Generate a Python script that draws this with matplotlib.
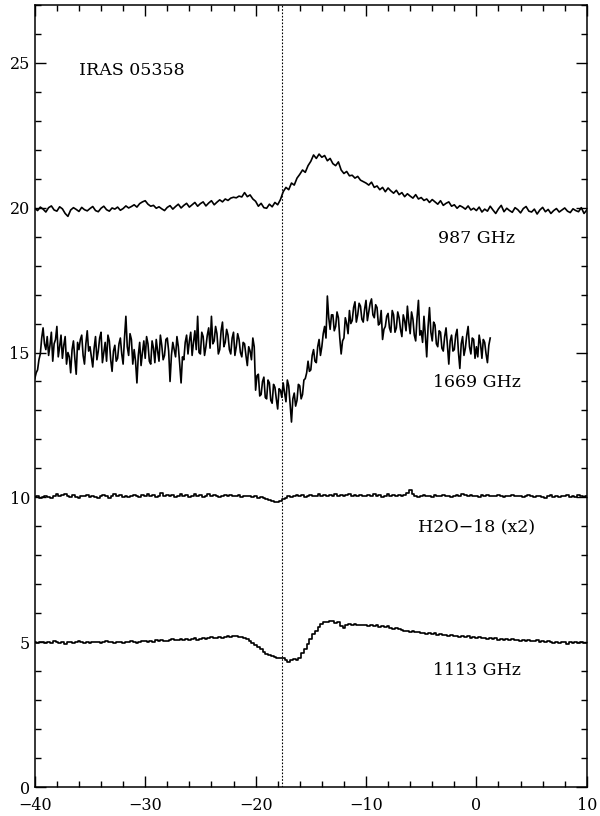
import numpy as np
import matplotlib.pyplot as plt
from matplotlib.ticker import MultipleLocator

step = 0.25
step1669 = 0.125

# 987 GHz, offset +20
t987 = [19.98, 19.90, 20.02, 19.95, 19.85, 20.00, 20.06, 19.92, 19.88, 20.03, 19.96, 19.80, 19.70, 19.92, 20.00, 19.94, 19.87, 20.01, 19.93, 19.89,
        19.97, 20.04, 19.90, 19.86, 19.98, 20.05, 19.93, 19.88, 19.99, 19.95, 20.02, 19.91, 19.97, 20.06, 19.99, 20.04, 20.10, 20.02, 20.14, 20.20,
        20.24, 20.12, 20.05, 20.08, 19.98, 20.03, 19.96, 19.90, 20.01, 20.07, 19.95, 20.04, 20.12, 19.99, 20.08, 20.15, 20.02, 20.10, 20.18, 20.05,
        20.14, 20.20, 20.06, 20.16, 20.24, 20.10, 20.19, 20.27, 20.20, 20.30, 20.25, 20.33, 20.36, 20.34, 20.40, 20.37, 20.52, 20.38, 20.44, 20.30,
        20.22, 20.05, 20.15, 20.00, 19.98, 20.12, 20.03, 20.18, 20.10, 20.28, 20.55, 20.70, 20.62, 20.85, 20.78, 21.02, 21.15, 21.30, 21.22, 21.45,
        21.60, 21.82, 21.70, 21.85, 21.74, 21.80, 21.62, 21.70, 21.52, 21.45, 21.58, 21.30, 21.18, 21.25, 21.10, 21.12, 21.02, 21.08, 20.95, 20.90,
        20.85, 20.78, 20.88, 20.70, 20.75, 20.62, 20.70, 20.55, 20.68, 20.58, 20.50, 20.60, 20.45, 20.52, 20.38, 20.48, 20.40, 20.33, 20.45, 20.30,
        20.35, 20.25, 20.30, 20.18, 20.28, 20.20, 20.12, 20.24, 20.08, 20.15, 20.20, 20.05, 20.10, 19.98, 20.07, 20.02, 19.95, 20.06, 19.92, 19.98,
        19.90, 20.02, 19.85, 19.95, 19.88, 20.05, 19.92, 19.80, 19.96, 20.08, 19.86, 19.98, 19.90, 19.84, 20.00, 19.93, 19.82, 19.97, 20.04, 19.88,
        19.85, 19.95, 19.78, 19.92, 20.01, 19.86, 19.94, 19.80, 19.90, 19.97, 19.85, 19.92, 19.99, 19.88, 19.83, 19.96, 19.90, 19.86, 20.00, 19.80,
        19.92]

# 1669 GHz, offset +15 (stops near +1.25 km/s), finer channels
t1669 = [14.10, 14.30, 14.40, 14.75, 14.95, 15.50, 15.85, 15.30, 15.10, 15.55, 14.90, 15.25, 15.70, 14.70, 15.30, 15.45, 15.90, 14.85, 15.20, 15.60,
         14.80, 15.25, 15.55, 14.60, 15.00, 14.85, 14.30, 15.10, 15.40, 14.80, 14.25, 15.35, 15.10, 15.45, 15.60, 14.90, 14.60, 15.30, 15.75, 15.05,
         15.20, 14.85, 14.50, 15.15, 15.55, 14.75, 15.05, 15.50, 15.70, 14.65, 15.00, 15.35, 14.70, 15.60, 15.40, 14.75, 14.35, 15.05, 15.25, 14.70,
         14.80, 15.30, 15.50, 14.95, 14.60, 15.50, 16.25, 15.20, 14.90, 15.65, 15.45, 14.60, 15.10, 14.70, 13.95, 14.90, 15.35, 14.55, 15.00, 15.40,
         14.80, 15.55, 15.30, 14.70, 14.60, 15.40, 15.15, 14.65, 15.45, 15.05, 14.70, 15.60, 15.25, 14.75, 14.90, 15.45, 15.50, 15.05, 14.00, 14.90,
         15.35, 15.10, 14.85, 15.55, 15.20, 14.60, 13.95, 14.85, 14.75, 15.35, 15.60, 14.95, 15.40, 15.70, 14.90, 15.35, 15.75, 15.10, 16.25, 15.00,
         14.95, 15.70, 15.55, 14.90, 15.20, 15.60, 15.85, 15.15, 16.25, 15.30, 15.40, 15.90, 15.65, 14.95, 15.10, 15.75, 16.05, 15.20, 15.35, 15.80,
         15.60, 15.10, 14.95, 15.50, 15.70, 14.90, 15.20, 15.65, 15.45, 15.00, 14.85, 15.35, 15.30, 14.90, 14.55, 15.20, 15.05, 14.75, 15.50, 15.20,
         13.70, 14.20, 14.25, 13.50, 13.55, 14.00, 14.15, 13.45, 13.40, 14.05, 13.95, 13.35, 13.25, 13.90, 13.80, 13.40, 13.05, 13.75, 13.70, 13.45,
         13.95, 13.60, 13.30, 14.05, 13.85, 13.20, 12.60, 13.40, 13.60, 13.15, 13.35, 13.90, 13.85, 13.40, 13.55, 14.05, 14.10, 14.30, 14.70, 14.35,
         14.40, 14.90, 15.10, 14.70, 14.65, 15.20, 15.45, 14.90, 15.20, 15.65, 15.90, 15.50, 16.95, 16.20, 15.80, 16.30, 16.30, 15.75, 15.90, 16.40,
         16.20, 15.50, 14.95, 15.40, 15.50, 16.20, 16.00, 15.65, 16.45, 16.00, 16.10, 16.55, 16.75, 16.05, 16.30, 16.70, 16.60, 16.15, 16.05, 16.50,
         16.80, 16.10, 16.40, 16.70, 16.85, 16.30, 16.20, 16.65, 16.55, 15.95, 16.00, 16.45, 15.45, 15.80, 15.90, 16.25, 16.35, 15.85, 15.70, 16.45,
         16.30, 15.70, 15.85, 16.40, 16.20, 15.80, 15.55, 16.30, 16.10, 15.75, 16.60, 16.05, 15.65, 16.40, 16.15, 15.60, 15.40, 16.20, 16.80, 15.60,
         15.75, 15.35, 16.25, 15.60, 14.85, 15.90, 16.55, 15.70, 15.40, 16.05, 15.95, 15.30, 15.20, 15.75, 15.70, 15.15, 15.05, 15.55, 15.85, 15.25,
         14.60, 15.40, 15.60, 15.05, 15.10, 15.60, 15.80, 15.00, 14.45, 15.30, 15.55, 14.90, 15.15, 15.60, 15.90, 15.20, 14.95, 15.50, 15.45, 14.80,
         15.20, 14.85, 15.60, 15.30, 14.80, 15.45, 15.35, 14.95, 14.65, 15.25, 15.50]

# H2O-18 (x2), offset +10
th2o18 = [10.00, 10.04, 9.97, 10.02, 10.06, 10.01, 9.98, 10.05, 10.10, 10.03, 10.08, 10.12, 10.04, 10.00, 10.07, 10.02, 9.98, 10.05, 10.03, 10.09,
          10.01, 10.06, 10.02, 9.99, 10.04, 10.08, 10.03, 9.97, 10.05, 10.11, 10.04, 10.07, 10.02, 10.06, 10.00, 10.03, 10.09, 10.05, 10.01, 10.07,
          10.04, 10.10, 10.03, 10.08, 10.02, 10.06, 10.14, 10.05, 10.09, 10.03, 10.07, 10.01, 10.05, 10.10, 10.04, 10.08, 10.02, 10.06, 10.11, 10.04,
          10.07, 10.02, 10.06, 10.10, 10.03, 10.08, 10.05, 10.01, 10.06, 10.09, 10.04, 10.07, 10.03, 10.05, 10.08, 10.02, 10.05, 10.03, 10.06, 10.01,
          10.03, 9.99, 10.02, 9.97, 9.95, 9.92, 9.89, 9.85, 9.83, 9.88, 9.95, 9.98, 10.04, 10.00, 10.06, 10.09, 10.04, 10.07, 10.02, 10.05,
          10.08, 10.03, 10.06, 10.10, 10.05, 10.08, 10.04, 10.09, 10.06, 10.12, 10.05, 10.08, 10.03, 10.07, 10.10, 10.04, 10.08, 10.05, 10.09, 10.06,
          10.03, 10.07, 10.05, 10.10, 10.04, 10.08, 10.02, 10.06, 10.11, 10.05, 10.08, 10.04, 10.07, 10.03, 10.09, 10.16, 10.25, 10.12, 10.06, 10.02,
          10.05, 10.08, 10.04, 10.06, 10.02, 10.07, 10.05, 10.03, 10.08, 10.04, 10.06, 10.01, 10.05, 10.09, 10.06, 10.13, 10.08, 10.03, 10.07, 10.04,
          10.06, 10.02, 10.07, 10.05, 10.08, 10.04, 10.06, 10.03, 10.07, 10.05, 10.02, 10.06, 10.04, 10.08, 10.05, 10.03, 10.06, 10.02, 10.05, 10.07,
          10.04, 10.01, 10.03, 10.06, 10.02, 9.99, 10.04, 10.07, 10.02, 10.05, 10.00, 10.06, 10.03, 10.08, 10.01, 10.05, 10.02, 10.07, 10.03, 10.00,
          10.04]

# 1113 GHz, offset +5
t1113 = [5.00, 4.97, 5.02, 4.99, 4.96, 5.01, 4.98, 5.03, 5.00, 4.97, 5.01, 4.95, 4.99, 5.02, 4.98, 5.00, 5.03, 4.99, 4.96, 5.01,
         4.98, 5.02, 4.99, 5.01, 4.97, 5.00, 5.04, 4.99, 5.01, 4.98, 5.02, 5.00, 4.97, 5.01, 4.99, 5.03, 5.00, 4.98, 5.02, 5.05,
         5.03, 5.00, 5.04, 5.02, 5.06, 5.03, 5.08, 5.05, 5.03, 5.07, 5.10, 5.06, 5.09, 5.12, 5.08, 5.11, 5.07, 5.10, 5.13, 5.09,
         5.12, 5.15, 5.11, 5.14, 5.17, 5.13, 5.16, 5.19, 5.15, 5.18, 5.21, 5.17, 5.20, 5.22, 5.19, 5.18, 5.15, 5.12, 5.05, 4.98,
         4.90, 4.83, 4.76, 4.67, 4.60, 4.55, 4.51, 4.48, 4.47, 4.45, 4.46, 4.37, 4.33, 4.37, 4.41, 4.39, 4.45, 4.62, 4.78, 4.95,
         5.10, 5.28, 5.40, 5.52, 5.63, 5.70, 5.68, 5.74, 5.72, 5.66, 5.69, 5.55, 5.48, 5.58, 5.63, 5.60, 5.62, 5.59, 5.61, 5.58,
         5.60, 5.57, 5.59, 5.55, 5.58, 5.54, 5.56, 5.52, 5.55, 5.50, 5.47, 5.50, 5.44, 5.42, 5.38, 5.40, 5.36, 5.38, 5.34, 5.36,
         5.31, 5.33, 5.29, 5.31, 5.27, 5.32, 5.26, 5.28, 5.24, 5.26, 5.22, 5.25, 5.21, 5.23, 5.19, 5.22, 5.18, 5.20, 5.16, 5.18,
         5.15, 5.17, 5.13, 5.16, 5.12, 5.14, 5.10, 5.13, 5.09, 5.11, 5.08, 5.12, 5.07, 5.10, 5.06, 5.09, 5.05, 5.08, 5.04, 5.07,
         5.05, 5.03, 5.06, 5.02, 5.05, 4.99, 5.03, 5.01, 4.98, 5.02, 4.97, 5.01, 4.99, 4.95, 5.00, 4.97, 5.01, 4.96, 4.99, 4.97,
         4.98]

# (values, channel width, drawstyle)
spectra = [(t987, step, 'default'), (t1669, step1669, 'default'),
           (th2o18, step, 'steps-mid'), (t1113, step, 'steps-mid')]
labels = ["987 GHz", "1669 GHz", "H2O\u221218 (x2)", "1113 GHz"]
label_y = [18.95, 13.97, 8.98, 4.03]
v_lsr = -17.6

plt.rcParams['font.family'] = ['DejaVu Serif']

fig = plt.figure(figsize=(6, 8.16), dpi=100)
ax = fig.add_axes([0.058, 0.0355, 0.92, 0.9585])

for t, dv, ds in spectra:
    v = -40 + dv * np.arange(len(t))
    ax.plot(v, t, color='black', lw=1.2, drawstyle=ds)

ax.axvline(v_lsr, color='black', lw=0.8, ls=(0, (1.5, 1.5)))

for lab, yy in zip(labels, label_y):
    ax.text(0.05, yy, lab, ha='center', va='center', fontsize=12.5)
ax.text(-36, 24.72, "IRAS 05358", ha='left', va='center', fontsize=12.5)

ax.set_xlim(-40, 10)
ax.set_ylim(0, 27)
ax.xaxis.set_major_locator(MultipleLocator(10))
ax.xaxis.set_minor_locator(MultipleLocator(2))
ax.yaxis.set_major_locator(MultipleLocator(5))
ax.yaxis.set_minor_locator(MultipleLocator(1))
ax.tick_params(which='both', direction='in', top=True, right=True, width=1.0, labelsize=11.5)
ax.tick_params(which='major', length=8)
ax.tick_params(which='minor', length=4)
ax.tick_params(axis='x', which='major', pad=7)
for s in ax.spines.values():
    s.set_linewidth(1.1)

fig.savefig('out.png', dpi=100)
